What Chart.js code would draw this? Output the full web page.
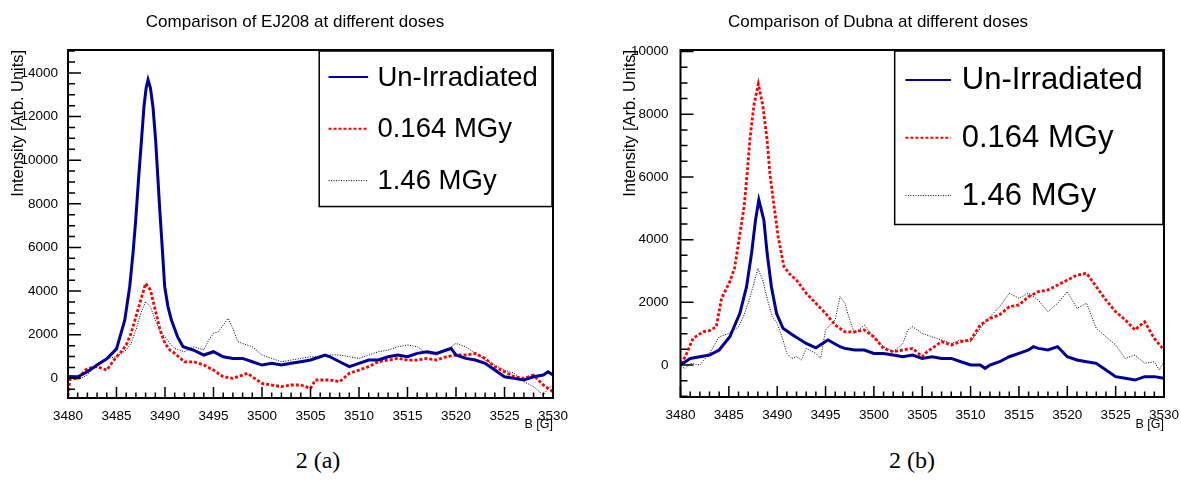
<!DOCTYPE html>
<html>
<head>
<meta charset="utf-8">
<title>EPR comparison at different doses</title>
<script src="https://cdn.jsdelivr.net/npm/chart.js@4.4.1/dist/chart.umd.min.js"></script>
<style>
  html, body { margin: 0; padding: 0; background: #fff; }
  body { width: 1181px; height: 501px; position: relative; overflow: hidden; }
  canvas { position: absolute; top: 0; }
  #chart-ej208 { left: 0; }
  #chart-dubna { left: 590px; }
  .caption {
    position: absolute; top: 447px; transform: translateX(-50%);
    font-family: 'Liberation Serif', 'DejaVu Serif', serif; font-size: 24px; color: #000;
  }
</style>
</head>
<body>
<canvas id="chart-ej208" width="600" height="445"></canvas>
<canvas id="chart-dubna" width="591" height="445"></canvas>
<div class="caption" style="left:318px">2 (a)</div>
<div class="caption" style="left:912px">2 (b)</div>

<script>
// ---- data (B in gauss, intensity in arb. units) ----
const SERIES_LABELS = ['Un-Irradiated', '0.164 MGy', '1.46 MGy'];
const B_TICKS = [3480, 3485, 3490, 3495, 3500, 3505, 3510, 3515, 3520, 3525, 3530];
const EJ208_Y_TICKS = [0, 2000, 4000, 6000, 8000, 10000, 12000, 14000];
const DUBNA_Y_TICKS = [0, 2000, 4000, 6000, 8000, 10000];

// EJ208
const ej208UnB = [3480,3481,3482,3483,3484,3485,3485.85,3486.36,3486.7,3486.98,3487.3,3487.57,3487.83,3488.05,3488.25,3488.5,3488.76,3489.04,3489.25,3489.45,3489.7,3489.97,3490.3,3490.66,3491.3,3491.86,3492.9,3494,3495,3496,3497,3498,3499,3500,3501,3502,3503,3504,3505,3506,3506.5,3507,3508,3509,3510,3511,3512,3513,3514,3515,3516,3517,3518,3519,3519.5,3520,3521,3522,3523,3524,3525,3526,3527,3528,3529,3529.5,3530];
const ej208UnI = [80,70,300,610,900,1350,2670,4200,5725,7250,9300,10880,12440,13300,13690,13300,12440,10880,9300,7800,6100,4200,3300,2670,1900,1450,1300,1070,1220,990,915,915,760,610,690,610,690,760,840,990,1070,990,760,535,690,840,840,990,1070,990,1145,1220,1145,1300,1370,1070,915,840,690,380,75,0,-75,75,150,305,150];

const ej208LowB = [3480,3480.2,3481,3482,3483,3484,3484.5,3485,3485.5,3486,3486.5,3487,3487.5,3488,3488.5,3489,3489.5,3490,3490.5,3491,3492,3493,3494,3495,3496,3497,3498,3498.5,3499,3500,3501,3502,3503,3504,3505,3505.5,3506,3507,3508,3509,3510,3511,3512,3513,3514,3515,3516,3517,3518,3519,3520,3521,3522,3523,3524,3525,3526,3527,3528,3529,3530];
const ej208LowI = [-800,-50,0,460,535,380,690,990,1220,1530,2060,2825,3590,4350,4050,3130,2210,1600,1300,1145,760,760,610,380,75,0,150,230,75,-230,-305,-380,-305,-305,-460,-75,-75,-75,-150,230,380,535,760,840,915,840,840,915,840,990,1070,1070,1145,915,535,305,75,0,150,-305,-610];

const ej208HighB = [3480,3481,3482,3483,3484,3485,3486,3486.5,3487,3487.5,3488,3488.5,3489,3489.5,3490,3490.5,3491,3492,3493,3494,3494.5,3495,3495.5,3496,3496.5,3497,3497.5,3498,3499,3500,3501,3502,3503,3504,3505,3506,3507,3508,3509,3510,3511,3512,3513,3514,3515,3516,3517,3518,3519,3520,3521,3522,3523,3524,3525,3526,3527,3528,3529,3529.5,3530];
const ej208HighI = [75,-75,150,690,915,990,1300,1600,2210,2980,3510,3280,2670,2140,1910,1600,1370,1220,1450,1300,1755,2060,2140,2440,2750,2290,1680,1600,1450,1070,915,760,840,915,990,990,1070,1070,990,915,1070,1220,1300,1450,1530,1450,1145,1070,1300,1600,1450,1145,840,610,380,230,-150,-380,-765,-460,-305];

// Dubna
const dubnaUnB = [3480,3481,3482,3483,3484,3485.1,3486.14,3486.83,3487.35,3487.76,3488.1,3488.62,3488.96,3489.4,3489.93,3490.6,3491.6,3493,3494,3495.25,3496.5,3497,3498,3499,3500,3501,3502,3503,3504,3505,3506,3507,3508,3509,3510,3511,3511.5,3512,3513,3514,3515,3516,3516.5,3517,3518,3519,3520,3521,3522,3523,3524,3525,3526,3527,3528,3529,3530];
const dubnaUnI = [0,210,265,320,480,900,1650,2500,3565,4630,5266,4630,3565,2500,1650,1170,960,690,550,800,585,530,480,480,370,370,320,265,320,210,265,210,210,105,0,0,-105,0,105,265,370,480,585,530,480,585,265,160,105,55,-160,-370,-425,-480,-370,-370,-425];

const dubnaLowB = [3480,3480.5,3481.3,3482.35,3483,3483.7,3484.25,3485.1,3485.6,3486.2,3486.58,3486.9,3487.17,3487.6,3488.05,3488.5,3488.96,3489.24,3489.68,3490.1,3490.7,3491.3,3492,3493,3494,3495,3496,3497,3498,3499,3500,3501,3502,3503,3504,3505,3505.5,3506,3507,3508,3509,3510,3511,3512,3513,3514,3515,3516,3517,3518,3519,3520,3521,3522,3523,3524,3525,3526,3527,3528,3529,3530];
const dubnaLowI = [55,265,850,1060,1100,1220,2130,2660,3100,4300,5050,6120,7180,8300,8970,8300,7180,6120,5050,4100,3140,2900,2710,2290,1970,1650,1275,1060,1060,1120,900,530,425,480,530,265,425,530,745,640,745,800,1275,1490,1600,1860,1915,2180,2340,2395,2550,2710,2870,2925,2500,2075,1700,1440,1120,1380,850,480];

const dubnaHighB = [3480,3480.5,3481,3482,3483,3484,3485,3486,3486.5,3487,3487.5,3488,3488.5,3489,3489.5,3490,3490.5,3491,3491.5,3492,3492.5,3493,3494,3494.5,3495,3496,3496.5,3497,3497.5,3498,3499,3500,3501,3502,3503,3503.5,3504,3505,3506,3507,3508,3509,3510,3511,3512,3513,3514,3515,3516,3517,3518,3519,3520,3521,3522,3523,3524,3525,3526,3527,3528,3529,3529.5,3530];
const dubnaHighI = [-55,-105,55,0,370,900,1010,1220,1540,1970,2500,3085,2710,2075,1540,1330,900,370,210,265,160,530,370,210,1120,1440,2180,1970,1440,1010,1275,900,585,425,690,1120,1220,1010,900,800,690,800,745,1170,1540,1860,2290,2130,2290,2075,1700,1970,2340,1810,1970,1170,900,640,210,320,55,105,-160,105];

const FONT = "'Liberation Sans', Arial, Helvetica, sans-serif";

const SERIES_STYLE = [
    { color: '#000099', width: 3, dash: [] },
    { color: '#ff0000', width: 2.8, dash: [3, 2] },
    { color: '#000000', width: 1, dash: [1, 1.5] },
];

function pts(bs, is) {
    return bs.map((b, i) => ({ x: b, y: is[i] }));
}

// ROOT-like frame: inward ticks, thick box, pad title and a boxed legend
const rootFrame = {
    id: 'rootFrame',
    afterDatasetsDraw(chart, args, opts) {
        const { ctx, chartArea: a, scales: { x, y } } = chart;
        ctx.save();
        ctx.strokeStyle = '#000';
        ctx.lineWidth = 1.5;
        ctx.beginPath();
        for (let v = x.min; v <= x.max + 1e-6; v += 1) {
            const px = x.getPixelForValue(v);
            const len = Math.round(v) % 5 === 0 ? 11 : 5.5;
            ctx.moveTo(px, a.bottom);
            ctx.lineTo(px, a.bottom - len);
        }
        for (let v = Math.ceil(y.min / 500) * 500; v <= y.max; v += 500) {
            const py = y.getPixelForValue(v);
            const len = v % 2000 === 0 ? 13 : 7;
            ctx.moveTo(a.left, py);
            ctx.lineTo(a.left + len, py);
        }
        ctx.stroke();

        ctx.lineWidth = 2;
        ctx.strokeRect(a.left, a.top, a.right - a.left, a.bottom - a.top);

        // pad title
        ctx.fillStyle = '#000';
        ctx.font = '17px ' + FONT;
        ctx.textAlign = 'center';
        ctx.textBaseline = 'middle';
        ctx.fillText(opts.title, opts.titleX, 22);

        // legend
        const bx = a.left + opts.x1 * (a.right - a.left);
        const bw = a.right - 1 - bx;
        const by = a.top + 1;
        const bh = opts.h * (a.bottom - a.top);
        ctx.fillStyle = '#fff';
        ctx.fillRect(bx, by, bw, bh);
        ctx.lineWidth = 1.5;
        ctx.strokeRect(bx, by, bw, bh);
        const rowH = bh / chart.data.datasets.length;
        chart.data.datasets.forEach((ds, i) => {
            const cy = by + rowH * (i + 0.5);
            ctx.beginPath();
            ctx.strokeStyle = ds.borderColor;
            ctx.lineWidth = Math.min(ds.borderWidth, 2);
            ctx.setLineDash(ds.borderDash || []);
            ctx.moveTo(bx + 0.04 * bw, cy);
            ctx.lineTo(bx + 0.21 * bw, cy);
            ctx.stroke();
            ctx.setLineDash([]);
            ctx.fillStyle = '#000';
            ctx.font = opts.fontSize + 'px ' + FONT;
            ctx.textBaseline = 'middle';
            ctx.textAlign = 'left';
            ctx.fillText(ds.label, bx + 0.25 * bw, cy + 1);
        });
        ctx.restore();
    }
};

function renderPanel(id, title, series, yMin, yMax, yTicks, layout) {
    const canvas = document.getElementById(id);
    const H = canvas.height;
    new Chart(canvas, {
        type: 'line',
        data: {
            datasets: series.map((s, i) => ({
                label: SERIES_LABELS[i],
                data: pts(s[0], s[1]),
                borderColor: SERIES_STYLE[i].color,
                borderWidth: SERIES_STYLE[i].width,
                borderDash: SERIES_STYLE[i].dash,
                pointRadius: 0,
                tension: 0,
                fill: false,
            })),
        },
        options: {
            responsive: false,
            animation: false,
            events: [],
            layout: { padding: { left: layout.padLeft, right: layout.padRight, top: 50, bottom: 0 } },
            plugins: {
                legend: { display: false },
                tooltip: { enabled: false },
                title: { display: false },
                rootFrame: {
                    title, titleX: layout.titleX,
                    x1: layout.legX, h: layout.legH, fontSize: layout.legFont,
                },
            },
            scales: {
                x: {
                    type: 'linear',
                    min: 3480,
                    max: 3530,
                    grid: { display: false },
                    border: { display: false },
                    afterBuildTicks: s => { s.ticks = B_TICKS.map(v => ({ value: v })); },
                    ticks: {
                        autoSkip: false,
                        maxRotation: 0,
                        padding: 2,
                        color: '#000',
                        font: { family: FONT, size: 13.5 },
                        callback: v => String(v),
                    },
                    title: {
                        display: true,
                        text: 'B [G]',
                        align: 'end',
                        color: '#000',
                        font: { family: FONT, size: 12.5 },
                        padding: { top: 0, bottom: 13 },
                    },
                    afterFit: s => { s.height = H - layout.bottom; },
                },
                y: {
                    type: 'linear',
                    min: yMin,
                    max: yMax,
                    grid: { display: false },
                    border: { display: false },
                    afterBuildTicks: s => { s.ticks = yTicks.map(v => ({ value: v })); },
                    ticks: {
                        padding: layout.tickPad,
                        color: '#000',
                        font: { family: FONT, size: 13.5 },
                        callback: v => String(v),
                    },
                    title: {
                        display: true,
                        text: 'Intensity [Arb. Units]',
                        align: 'end',
                        color: '#000',
                        font: { family: FONT, size: 16.4 },
                        padding: { top: 8.2, bottom: 0 },
                    },
                    afterFit: s => { s.width = layout.axisWidth; },
                },
            },
        },
        plugins: [rootFrame],
    });
}

renderPanel('chart-ej208', 'Comparison of EJ208 at different doses',
    [[ej208UnB, ej208UnI], [ej208LowB, ej208LowI], [ej208HighB, ej208HighI]],
    -900, 15050, EJ208_Y_TICKS,
    { padLeft: 0, padRight: 47, axisWidth: 68, bottom: 398, tickPad: 2, titleX: 295,
      legX: 0.518, legH: 0.447, legFont: 27.5 });

renderPanel('chart-dubna', 'Comparison of Dubna at different doses',
    [[dubnaUnB, dubnaUnI], [dubnaLowB, dubnaLowI], [dubnaHighB, dubnaHighI]],
    -1020, 10050, DUBNA_Y_TICKS,
    { padLeft: 22, padRight: 16, axisWidth: 68.5, bottom: 397, tickPad: 4, titleX: 288,
      legX: 0.443, legH: 0.5, legFont: 31 });
</script>
</body>
</html>
